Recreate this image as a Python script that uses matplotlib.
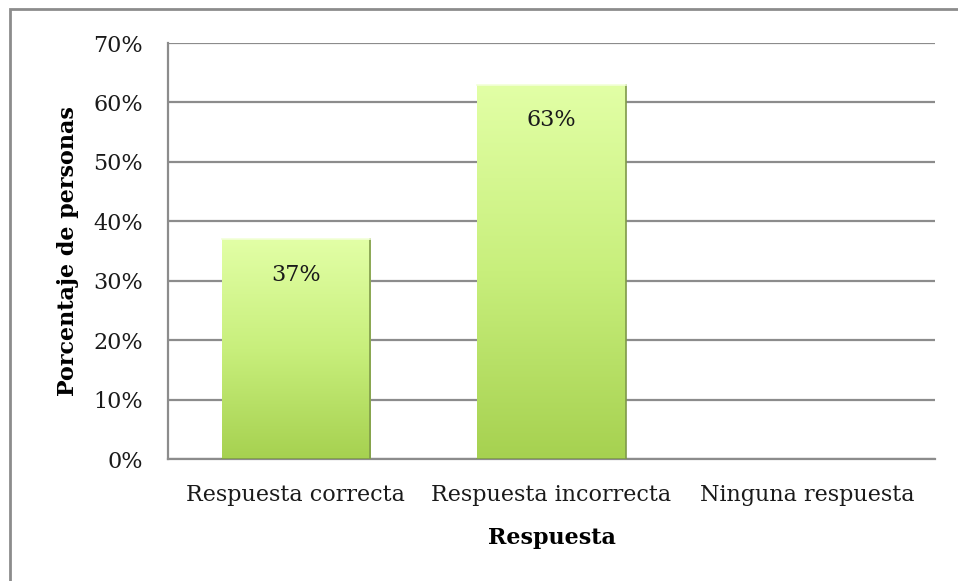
import matplotlib.pyplot as plt
import numpy as np
from matplotlib.colors import LinearSegmentedColormap
from matplotlib.patches import Rectangle

# Data
categories = ['Respuesta correcta', 'Respuesta incorrecta', 'Ninguna respuesta']
values = [37, 63, 0]
labels = ['37%', '63%', '']

plt.rcParams['font.family'] = ['DejaVu Serif']

fig = plt.figure(figsize=(9.58, 5.81), dpi=100)
ax = fig.add_axes([168 / 958, 1 - 459 / 581, (935 - 168) / 958, (459 - 43) / 581])

# figure frame
fig.patches.append(Rectangle((10 / 958, -0.01), 1.0, 1 - 9 / 581 + 0.01, transform=fig.transFigure,
                             fill=False, edgecolor='#8c8c8c', linewidth=2))

x = np.arange(len(categories))
width = 0.58
cmap = LinearSegmentedColormap.from_list('grn', ['#a6d150', '#c8ef7c', '#e2ffa6'])
grad = np.linspace(0, 1, 256).reshape(-1, 1)

bars = ax.bar(x, values, width=width, color='none', edgecolor='none', zorder=3)
for bar, lab in zip(bars, labels):
    h = bar.get_height()
    if h <= 0:
        continue
    x0 = bar.get_x()
    im = ax.imshow(grad, cmap=cmap, aspect='auto', origin='lower',
                   extent=[x0, x0 + bar.get_width(), 0, h], zorder=3)
    im.set_clip_path(bar)
    # shaded edges
    ax.plot([x0 + bar.get_width()] * 2, [0, h], color='#7f9a4a', lw=1.2, zorder=4)
    ax.plot([x0, x0 + bar.get_width()], [0, 0], color='#7f9a4a', lw=1.2, zorder=4)
    ax.plot([x0, x0 + bar.get_width()], [h, h], color='#f2ffd8', lw=1.2, zorder=4)
    ax.text(bar.get_x() + bar.get_width() / 2, h - 6, lab, ha='center', va='center',
            fontsize=16, color='#1a1a1a', zorder=5)

ax.set_xlim(-0.5, 2.5)
ax.set_ylim(0, 70)
ax.set_yticks(range(0, 71, 10))
ax.set_yticklabels([f'{v}%' for v in range(0, 71, 10)])
ax.set_xticks(x)
ax.set_xticklabels(categories)
ax.yaxis.grid(True, color='#8c8c8c', linewidth=1.6, zorder=0)
ax.set_axisbelow(True)
for s in ['top', 'right']:
    ax.spines[s].set_visible(False)
ax.spines['left'].set_color('#8c8c8c')
ax.spines['bottom'].set_color('#8c8c8c')
ax.spines['left'].set_linewidth(1.6)
ax.spines['bottom'].set_linewidth(1.6)
ax.tick_params(axis='y', length=0, labelsize=16, colors='#1a1a1a', pad=18)
ax.tick_params(axis='x', length=0, labelsize=16, colors='#1a1a1a', pad=18)

ax.set_xlabel('Respuesta', fontsize=16, fontweight='bold', labelpad=15)
ax.set_ylabel('Porcentaje de personas', fontsize=16, fontweight='bold', labelpad=10)

plt.savefig('out.png', dpi=100)
